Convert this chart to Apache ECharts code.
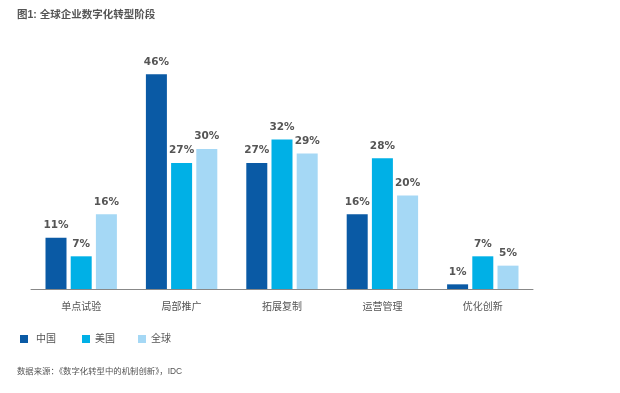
<!DOCTYPE html>
<html><head><meta charset="utf-8">
<script src="https://cdn.jsdelivr.net/npm/echarts@6/dist/echarts.min.js"></script>
<style>html,body{margin:0;padding:0;background:#fff}#c{width:620px;height:393px}</style>
</head><body><div id="c"></div>
<script>
const categories = ['单点试验','局部推广','拓展复制','运营管理','优化创新'];
const seriesNames = ['中国','美国','全球'];
const china = [11, 46, 27, 16, 1];
const usa = [7, 27, 32, 28, 7];
const world = [16, 30, 29, 20, 5];
const colors = ['#0a5aa5','#00b0e6','#a5d8f5'];
const titleText = '图1: 全球企业数字化转型阶段';
const sourceText = '数据来源：《数字化转型中的机制创新》，IDC';

const font = '"Liberation Sans","Noto Sans CJK SC",sans-serif';
const labelFont = '"DejaVu Sans","Noto Sans CJK SC",sans-serif';
const chart = echarts.init(document.getElementById('c'), null, {renderer:'canvas'});
const mk = (name, data, i) => ({
  name, type:'bar', data, barWidth:21, barGap:'20%',
  itemStyle:{color:colors[i]},
  label:{show:true, position:'top', distance:7, formatter:'{c}%',
    color:'#555', fontSize:10.5, fontWeight:'bold', fontFamily:labelFont}
});
const legendLefts = [20, 82, 138];
const legendPads = [3, 0, 0];
chart.setOption({
  animation:false,
  textStyle:{fontFamily:font},
  title:{text:titleText, left:17, top:10, padding:0,
    textStyle:{fontSize:10.5, fontWeight:'bold', color:'#555', fontFamily:font}},
  graphic:[{type:'text', left:17, top:367, style:{text:sourceText, fontSize:8.4, fill:'#555', fontFamily:font}}],
  legend: seriesNames.map((n, i) => ({
    data:[n], left:legendLefts[i], top:334, padding:0, icon:'rect', itemWidth:8, itemHeight:8,
    textStyle:{fontSize:10, color:'#555', padding:[0,0,0,legendPads[i]], fontFamily:font}
  })),
  grid:{left:31, right:87, top:55.5, bottom:104, containLabel:false},
  xAxis:{type:'category', data:categories,
    axisLine:{lineStyle:{color:'#888', width:1}}, axisTick:{show:false},
    axisLabel:{color:'#555', fontSize:10, margin:13, fontFamily:font}},
  yAxis:{type:'value', min:0, max:50, show:false, splitLine:{show:false}},
  series:[mk(seriesNames[0], china, 0), mk(seriesNames[1], usa, 1), mk(seriesNames[2], world, 2)]
});
</script></body></html>
